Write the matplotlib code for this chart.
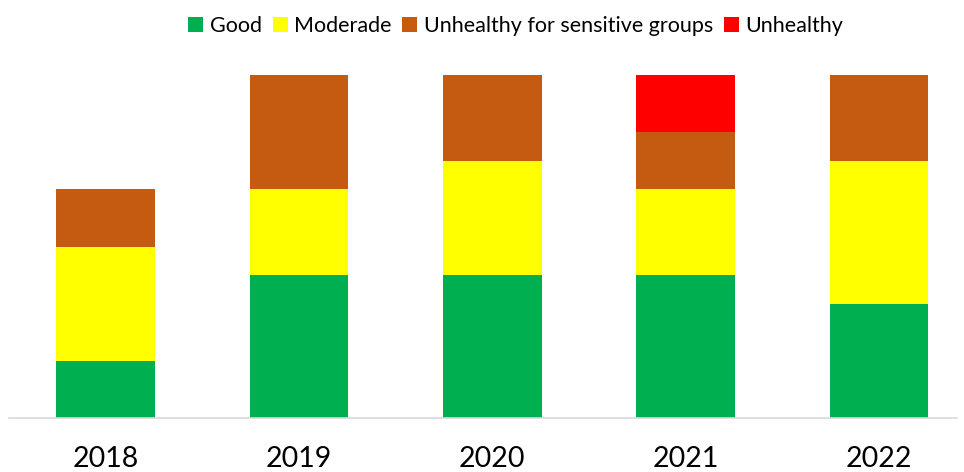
import numpy as np
import matplotlib.pyplot as plt

years = ["2018", "2019", "2020", "2021", "2022"]
good = [2, 5, 5, 5, 4]
moderade = [4, 3, 4, 3, 5]
sensitive = [2, 4, 3, 2, 3]
unhealthy = [0, 0, 0, 2, 0]

plt.rcParams['font.family'] = ['Lato', 'DejaVu Sans']

fig = plt.figure(figsize=(9.64, 4.72), dpi=100)
ax = fig.add_axes([9 / 964, 54 / 472, 948 / 964, (418 - 75) / 472])

x = np.arange(len(years))
w = 0.51
bottom = np.zeros(len(years))
series = [
    (good, "Good", "#00b050"),
    (moderade, "Moderade", "#ffff00"),
    (sensitive, "Unhealthy for sensitive groups", "#c55a11"),
    (unhealthy, "Unhealthy", "#ff0000"),
]
for vals, name, col in series:
    ax.bar(x, vals, w, bottom=bottom, color=col, label=name)
    bottom += np.array(vals)

ax.set_xlim(-0.5, 4.404)
ax.set_ylim(0, 12)
ax.set_xticks(x)
ax.set_xticklabels(years, fontsize=20.5)
ax.tick_params(axis='x', length=0, pad=20)
ax.set_yticks([])
for s in ["top", "right", "left"]:
    ax.spines[s].set_visible(False)
ax.spines["bottom"].set_color("#d9d9d9")
ax.spines["bottom"].set_linewidth(1.2)

fig.legend(loc="upper center", bbox_to_anchor=(0.535, 1.008), ncol=4, frameon=False,
           fontsize=15.5, handlelength=0.7, handleheight=0.7, handletextpad=0.3,
           columnspacing=0.5)

fig.savefig("out.png", dpi=100)
